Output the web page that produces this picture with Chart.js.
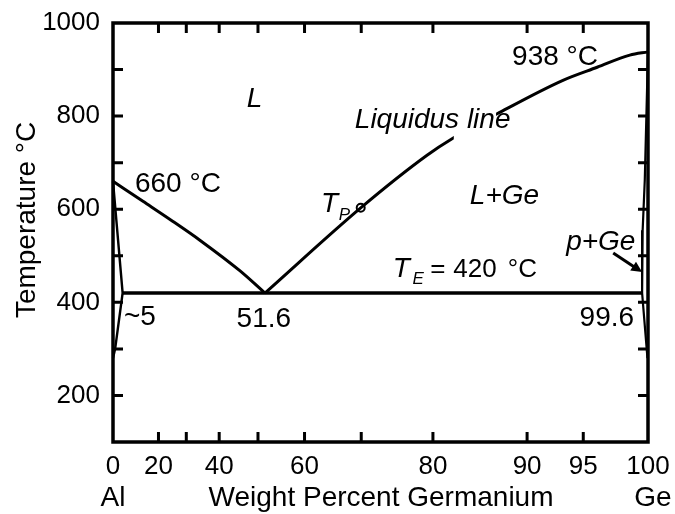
<!DOCTYPE html>
<html lang="en">
<head>
    <meta charset="UTF-8">
    <title>Al-Ge phase diagram</title>
    <script src="https://cdn.jsdelivr.net/npm/chart.js"></script>
    <style>
        body { margin: 0; background: #fff; }
        #wrap { width: 675px; height: 514px; }
    </style>
</head>
<body>
    <div id="wrap"><canvas id="phase"></canvas></div>

    <script>
        // x is the linear (atomic %) position, labels show weight % Ge
        const xTickPos = [0, 8.5, 13.7, 19.85, 27.1, 35.8, 46.4, 59.8, 77.4, 87.9, 100];
        const xTickText = ['0', '20', '', '40', '', '60', '', '80', '90', '95', '100'];
        const tempTicks = [100, 200, 300, 400, 500, 600, 700, 800, 900, 1000];

        // liquidus, Al side
        const liqAlX = [0, 5.6, 10.8, 16.3, 23.7, 28.4];
        const liqAlT = [660, 617, 577, 533, 468, 420];
        // liquidus, Ge side
        const liqGeX = [28.4, 46.3, 58.7, 63.6, 71.8, 84.1, 90.5, 96.6, 100];
        const liqGeT = [420, 603, 716, 753, 805, 877, 905, 931, 938];
        // Al solid solution boundary
        const alSolX = [0, 1.8, 0.4, 0];
        const alSolT = [660, 420, 300, 280];
        // Ge solid solution boundary
        const geSolX = [100, 99.4, 99.0, 98.9, 99.9];
        const geSolT = [938, 663, 555, 420, 280];
        // eutectic line
        const eutX = [1.8, 98.9];
        const eutT = [420, 420];
        // T_P point
        const tpX = [46.3];
        const tpT = [603];

        const FONT = '"Liberation Sans", Arial, Helvetica, sans-serif';

        function pts(xs, ys) {
            return xs.map((x, i) => ({ x: x, y: ys[i] }));
        }

        function lineSet(xs, ys, w, extra) {
            return Object.assign({
                data: pts(xs, ys),
                showLine: true,
                borderColor: '#000',
                borderWidth: w,
                pointRadius: 0,
                fill: false,
                clip: false
            }, extra || {});
        }

        // annotation texts, positions in data units
        const notes = [
            { t: 'L', x: 25.0, y: 820, f: 'italic 28px' },
            { t: '660 °C', x: 4.1, y: 637, f: '28px' },
            { t: 'Liquidus line', x: 45.2, y: 774, f: 'italic 28px' },
            { t: '938 °C', x: 74.6, y: 910, f: '28px' },
            { t: 'T', x: 38.9, y: 594, f: 'italic 28px' },
            { t: 'P', x: 42.2, y: 577, f: 'italic 17px' },
            { t: 'L+Ge', x: 66.7, y: 611, f: 'italic 28px' },
            { t: 'T', x: 52.3, y: 454, f: 'italic 28px' },
            { t: 'E', x: 56.0, y: 439, f: 'italic 17px' },
            { t: '=', x: 59.3, y: 454, f: '26px' },
            { t: '420', x: 63.6, y: 454, f: '26px' },
            { t: '°C', x: 73.8, y: 454, f: '26px' },
            { t: 'p+Ge', x: 84.7, y: 512, f: 'italic 28px' },
            { t: '~5', x: 2.06, y: 351, f: '28px' },
            { t: '51.6', x: 28.2, y: 347, f: '28px', a: 'center' },
            { t: '99.6', x: 97.4, y: 349, f: '28px', a: 'right' }
        ];

        const decor = {
            id: 'decor',
            afterDatasetsDraw(chart) {
                const ctx = chart.ctx;
                const a = chart.chartArea;
                const xs = chart.scales.x, ys = chart.scales.y;
                const px = v => xs.getPixelForValue(v);
                const py = v => ys.getPixelForValue(v);
                ctx.save();

                // gap in the liquidus behind its label
                ctx.fillStyle = '#fff';
                ctx.fillRect(px(63.7), py(818), px(71.6) - px(63.7), py(744) - py(818));

                // frame
                ctx.strokeStyle = '#000';
                ctx.lineWidth = 3.5;
                ctx.strokeRect(a.left, a.top, a.right - a.left, a.bottom - a.top);

                // inward ticks on all four sides
                ctx.lineWidth = 3;
                ctx.beginPath();
                xTickPos.slice(1, -1).forEach(v => {
                    const x = px(v);
                    ctx.moveTo(x, a.bottom); ctx.lineTo(x, a.bottom - 10);
                    ctx.moveTo(x, a.top); ctx.lineTo(x, a.top + 10);
                });
                tempTicks.slice(1, -1).forEach(v => {
                    const y = py(v);
                    ctx.moveTo(a.left, y); ctx.lineTo(a.left + 10, y);
                    ctx.moveTo(a.right, y); ctx.lineTo(a.right - 10, y);
                });
                ctx.stroke();

                // arrow to p+Ge
                const x1 = px(93.5), y1 = py(506), x2 = px(98.9), y2 = py(465);
                const ang = Math.atan2(y2 - y1, x2 - x1);
                ctx.lineWidth = 3;
                ctx.beginPath();
                ctx.moveTo(x1, y1);
                ctx.lineTo(x2 - 8 * Math.cos(ang), y2 - 8 * Math.sin(ang));
                ctx.stroke();
                ctx.fillStyle = '#000';
                ctx.beginPath();
                ctx.moveTo(x2, y2);
                ctx.lineTo(x2 - 12 * Math.cos(ang - 0.45), y2 - 12 * Math.sin(ang - 0.45));
                ctx.lineTo(x2 - 12 * Math.cos(ang + 0.45), y2 - 12 * Math.sin(ang + 0.45));
                ctx.closePath();
                ctx.fill();

                // labels
                ctx.fillStyle = '#000';
                ctx.textBaseline = 'alphabetic';
                notes.forEach(n => {
                    ctx.font = n.f + ' ' + FONT;
                    ctx.textAlign = n.a || 'left';
                    ctx.fillText(n.t, px(n.x), py(n.y));
                });

                // axis titles
                ctx.font = '28px ' + FONT;
                ctx.textAlign = 'center';
                ctx.fillText('Al', px(0), a.bottom + 64);
                ctx.fillText('Weight Percent Germanium', px(50.1), a.bottom + 64);
                ctx.fillText('Ge', px(100.9), a.bottom + 64);

                ctx.translate(35, py(577));
                ctx.rotate(-Math.PI / 2);
                ctx.fillText('Temperature °C', 0, 0);
                ctx.restore();
            }
        };

        function noPad(s) {
            s.paddingTop = 0;
            s.paddingBottom = 0;
            s.paddingLeft = 0;
            s.paddingRight = 0;
        }

        new Chart(document.getElementById('phase'), {
            type: 'scatter',
            data: {
                datasets: [
                    lineSet(liqAlX, liqAlT, 3, { cubicInterpolationMode: 'monotone' }),
                    lineSet(liqGeX, liqGeT, 3, { cubicInterpolationMode: 'monotone' }),
                    lineSet(alSolX, alSolT, 2.4),
                    lineSet(geSolX, geSolT, 2.2),
                    lineSet(eutX, eutT, 3.5),
                    {
                        data: pts(tpX, tpT),
                        pointRadius: 4,
                        pointBorderWidth: 2,
                        pointBorderColor: '#000',
                        pointBackgroundColor: '#fff',
                        clip: false
                    }
                ]
            },
            options: {
                responsive: true,
                maintainAspectRatio: false,
                animation: false,
                layout: { padding: { top: 23, right: 27, left: 0, bottom: 0 } },
                plugins: {
                    legend: { display: false },
                    tooltip: { enabled: false }
                },
                scales: {
                    x: {
                        type: 'linear',
                        min: 0,
                        max: 100,
                        grid: { display: false, drawTicks: false },
                        border: { display: false },
                        afterBuildTicks: s => { s.ticks = xTickPos.map(v => ({ value: v })); },
                        afterFit: s => { s.height = 72; noPad(s); },
                        ticks: {
                            autoSkip: false,
                            maxRotation: 0,
                            padding: 9,
                            color: '#000',
                            font: { family: FONT, size: 26 },
                            callback: v => xTickText[xTickPos.indexOf(v)]
                        }
                    },
                    y: {
                        min: 100,
                        max: 1000,
                        grid: { display: false, drawTicks: false },
                        border: { display: false },
                        afterBuildTicks: s => { s.ticks = tempTicks.map(v => ({ value: v })); },
                        afterFit: s => { s.width = 113; noPad(s); },
                        ticks: {
                            padding: 13,
                            color: '#000',
                            font: { family: FONT, size: 26 },
                            callback: v => (v % 200 === 0 ? String(v) : '')
                        }
                    }
                }
            },
            plugins: [decor]
        });
    </script>
</body>
</html>
